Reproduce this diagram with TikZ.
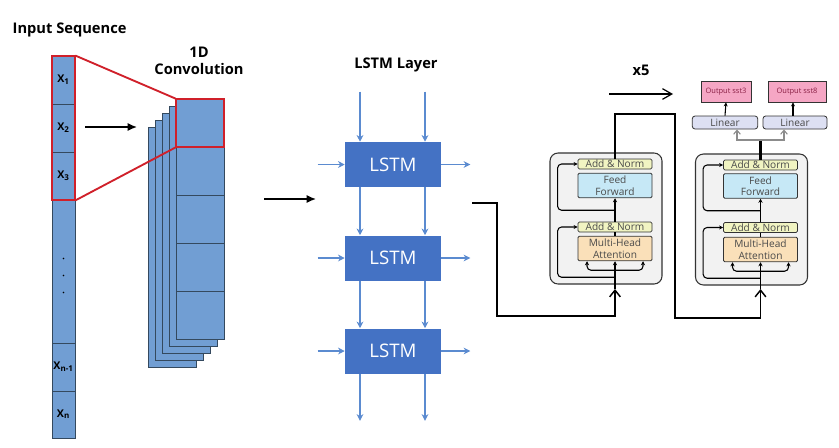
\documentclass[tikz,border=0pt]{standalone}
\usepackage{fontspec}
\setmainfont{Open Sans}
\usepackage{tikz}
\usetikzlibrary{arrows.meta,calc}
\definecolor{CellBlue}{HTML}{719ED3}
\definecolor{CellLine}{HTML}{34495E}
\definecolor{LstmBlue}{HTML}{4472C4}
\definecolor{LstmArrow}{HTML}{5B8BD0}
\definecolor{ConvRed}{HTML}{D0202A}
\definecolor{EncFill}{HTML}{F2F2F2}
\definecolor{NormFill}{HTML}{F1F4C2}
\definecolor{FfFill}{HTML}{C6E8F6}
\definecolor{MhaFill}{HTML}{FAE0B9}
\definecolor{LinFill}{HTML}{DDE0F3}
\definecolor{OutFill}{HTML}{F5A6C4}
\definecolor{OutText}{HTML}{8A2045}
\definecolor{BoxText}{HTML}{4A4A4A}
\tikzset{
  head/.style={font=\fontsize{11}{13}\selectfont\bfseries,align=center},
  cell/.style={draw=CellLine,fill=CellBlue,line width=0.6pt,inner sep=0pt,
    minimum width=17.25pt,font=\fontsize{8}{9}\selectfont\bfseries},
  convcell/.style={draw=CellLine,fill=CellBlue,line width=0.6pt,inner sep=0pt,
    minimum width=36pt,minimum height=36pt},
  convlayer/.style={draw=CellLine,fill=CellBlue,line width=0.6pt},
  redline/.style={color=ConvRed,line width=1.4pt,line join=miter},
  lstm/.style={fill=LstmBlue,text=white,inner sep=0pt,minimum width=72pt,
    minimum height=33.75pt,font=\fontsize{14}{16}\selectfont},
  larrow/.style={LstmArrow,line width=0.8pt,-{Stealth[length=5pt,width=5pt]}},
  conn/.style={black,line width=1.1pt},
  encblock/.style={draw=black!80,fill=EncFill,line width=0.8pt,rounded corners=6pt,
    minimum width=84pt,minimum height=98.25pt},
  sub/.style={draw=black!80,line width=0.6pt,rounded corners=1pt,inner sep=0pt,
    minimum width=55.5pt,text=BoxText,align=center,font=\fontsize{7.6}{8.6}\selectfont},
  addnorm/.style={sub,fill=NormFill,minimum height=7.5pt},
  ffbox/.style={sub,fill=FfFill,minimum height=18.5pt},
  mhabox/.style={sub,fill=MhaFill,minimum height=18.5pt},
  encline/.style={black,line width=0.8pt},
  resid/.style={encline,rounded corners=3pt,-{Stealth[length=3pt,width=3pt]}},
  linbox/.style={sub,fill=LinFill,rounded corners=2pt,minimum width=49pt,minimum height=9.75pt},
  outbox/.style={sub,fill=OutFill,rounded corners=0pt,minimum height=15.75pt,
    text=OutText,font=\fontsize{5.6}{6}\selectfont},
  barb/.style={-{Straight Barb[length=5pt,width=8pt]}}
}

\begin{document}
\begin{tikzpicture}[x=0.75pt,y=-0.75pt]
\path[use as bounding box] (0,0) rectangle (839,447);
% input sequence
\node[head,anchor=west] (inseq) at (8,30) {Input Sequence};
\node[cell,minimum height=36pt] (c1) at (63.5,80) {X\textsubscript{1}};
\node[cell,minimum height=36pt] (c2) at (63.5,128) {X\textsubscript{2}};
\node[cell,minimum height=36pt] (c3) at (63.5,176) {X\textsubscript{3}};
\node[cell,minimum height=107.25pt] (cdots) at (63.5,271.5) {};
\node[cell,minimum height=36pt] (cn1) at (63.5,367) {X\textsubscript{n-1}};
\node[cell,minimum height=35.25pt] (cn) at (63.5,414.5) {X\textsubscript{n}};
\fill (cdots.center) ++(0,-13) circle (0.6pt) ++(0,17) circle (0.6pt) ++(0,17) circle (0.6pt);
% convolution stack
\node[head] (convlbl) at (199,60.5) {1D\\Convolution};
\draw[convlayer] (148,127) rectangle ++(48,240);
\draw[convlayer] (155,120) rectangle ++(48,240);
\draw[convlayer] (162,113) rectangle ++(48,240);
\draw[convlayer] (169,106) rectangle ++(48,240);
\node[convcell] (f1) at (200,123) {};
\node[convcell] (f2) at (200,171) {};
\node[convcell] (f3) at (200,219) {};
\node[convcell] (f4) at (200,267) {};
\node[convcell] (f5) at (200,315) {};
\draw[redline] (c1.north west) -- (c1.north east) -- (c3.south east) -- (c3.south west) -- cycle;
\draw[redline] (f1.north west) -- (f1.north east) -- (f1.south east) -- (f1.south west) -- cycle;
\draw[redline] (c1.north east) -- (f1.north west);
\draw[redline] (c3.south east) -- (f1.south west);
\coordinate (a1s) at (85,127);
\coordinate (a1e) at (137,127);
\draw[line width=1.1pt,-{Latex[length=7pt,width=6pt]}] (a1s) -- (a1e);
\coordinate (a2s) at (264,199);
\coordinate (a2e) at (316,199);
\draw[line width=1.1pt,-{Latex[length=7pt,width=6pt]}] (a2s) -- (a2e);
% LSTM layer
\node[head] (lstmlbl) at (396,65) {LSTM Layer};
\node[lstm] (l1) at (393,164.5) {LSTM};
\node[lstm] (l2) at (393,258) {LSTM};
\node[lstm] (l3) at (393,351) {LSTM};
\foreach \dx in {-33,32} {
  \draw[larrow] ($(l1.north)+(\dx,-50)$) -- ($(l1.north)+(\dx,0)$);
  \draw[larrow] ($(l1.south)+(\dx,0)$) -- ($(l2.north)+(\dx,0)$);
  \draw[larrow] ($(l2.south)+(\dx,0)$) -- ($(l3.north)+(\dx,0)$);
  \draw[larrow] ($(l3.south)+(\dx,0)$) -- ($(l3.south)+(\dx,47)$);
}
\foreach \n in {l1,l2,l3} {
  \draw[larrow] ($(\n.west)+(-27,0)$) -- (\n.west);
  \draw[larrow] (\n.east) -- ($(\n.east)+(29,0)$);
}
% encoder blocks
\node[head] (reps) at (641,70) {x5};
\coordinate (rs) at (609,94);
\coordinate (re) at (673,94);
\draw[line width=0.9pt,-{Straight Barb[length=7pt,width=8pt]}] (rs) -- (re);
\node[encblock] (enc1) at (606,218.5) {};
\node[addnorm] (an1a) at (615,164) {Add \& Norm};
\node[ffbox] (ff1) at (615,185.5) {Feed\\Forward};
\node[addnorm] (an1b) at (615,227) {Add \& Norm};
\node[mhabox] (mha1) at (615,248.5) {Multi-Head\\Attention};
\node[encblock] (enc2) at (751.5,219.5) {};
\node[addnorm] (an2a) at (760.5,165) {Add \& Norm};
\node[ffbox] (ff2) at (760.5,186) {Feed\\Forward};
\node[addnorm] (an2b) at (760.5,227.5) {Add \& Norm};
\node[mhabox] (mha2) at (760.5,249.5) {Multi-Head\\Attention};
\coordinate (lstmout) at (472,203);
\coordinate (in1) at (615,289);
\coordinate (in2) at (760.5,289);
\draw[conn,barb] (lstmout) -- (497,203) -- (497,316) -| (in1);
\draw[conn,barb] (an1a.north) |- (675,114) -- (675,318) -| (in2);
\draw[encline,-{Stealth[length=3pt,width=3pt]}] (in1) -- (mha1.south);
\draw[encline] (mha1.north) -- (an1b.south);
\draw[encline,-{Stealth[length=3pt,width=3pt]}] (an1b.north) -- (ff1.south);
\draw[resid] ($(mha1.south)+(0,16)$) -| ($(an1b.west)+(-20,0)$) -- (an1b.west);
\draw[resid] ($(ff1.south)+(0,12)$) -| ($(an1a.west)+(-20,0)$) -- (an1a.west);
\draw[resid] ($(mha1.south)+(0,9)$) -| ($(mha1.south)+(-28,0)$);
\draw[resid] ($(mha1.south)+(0,9)$) -| ($(mha1.south)+(28,0)$);
\draw[encline,-{Stealth[length=3pt,width=3pt]}] (in2) -- (mha2.south);
\draw[encline] (mha2.north) -- (an2b.south);
\draw[encline,-{Stealth[length=3pt,width=3pt]}] (an2b.north) -- (ff2.south);
\draw[resid] ($(mha2.south)+(0,16)$) -| ($(an2b.west)+(-20,0)$) -- (an2b.west);
\draw[resid] ($(ff2.south)+(0,12)$) -| ($(an2a.west)+(-20,0)$) -- (an2a.west);
\draw[resid] ($(mha2.south)+(0,9)$) -| ($(mha2.south)+(-28,0)$);
\draw[resid] ($(mha2.south)+(0,9)$) -| ($(mha2.south)+(28,0)$);
% output heads
\node[linbox] (lin1) at (725,122.5) {Linear};
\node[linbox,minimum width=48pt] (lin2) at (795,122.5) {Linear};
\node[outbox,minimum width=37.5pt] (out1) at (726,91.5) {Output sst3};
\node[outbox,minimum width=43.5pt] (out2) at (797,91.5) {Output sst8};
\coordinate (split) at (760.5,140);
\draw[conn,line width=1.6pt] (an2a.north) -- (split);
\draw[encline,black!45,-{Straight Barb[length=3pt,width=5pt]}] (split) -| ($(lin1.south)+(12,0)$);
\draw[encline,black!45,-{Straight Barb[length=3pt,width=5pt]}] (split) -| ($(lin2.south)+(-11,0)$);
\draw[encline,-{Stealth[length=3pt,width=3pt]}] (lin1.north) -- (out1.south);
\draw[encline,-{Stealth[length=3pt,width=3pt]}] ($(lin2.north)+(-2,0)$) -- ($(out2.south)+(-4,0)$);
\end{tikzpicture}
\end{document}
